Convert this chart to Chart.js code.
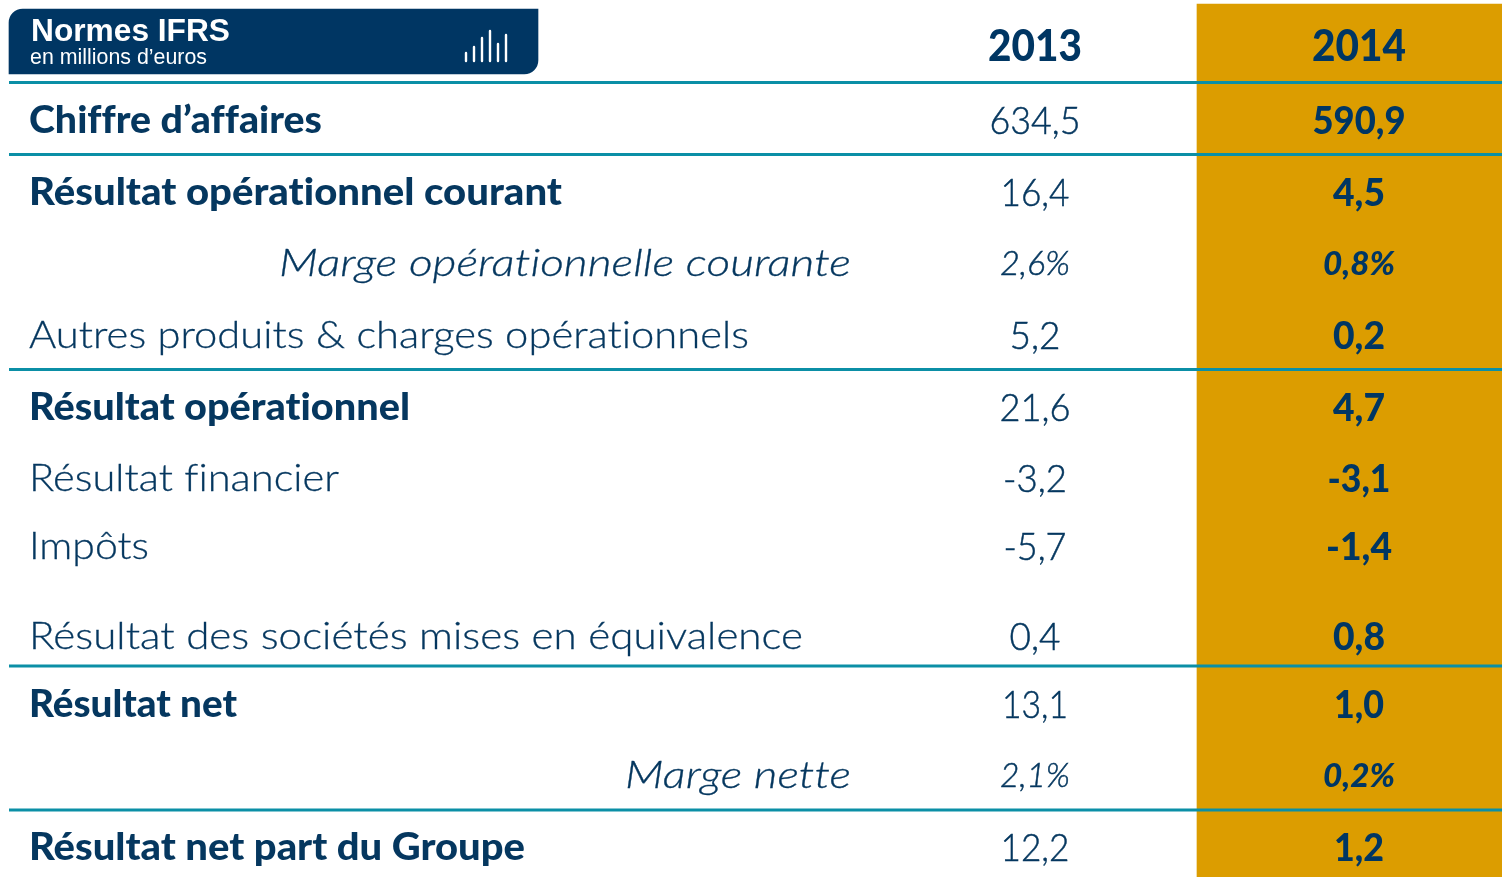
<!DOCTYPE html>
<html lang="fr"><head><meta charset="utf-8">
<script src="https://cdn.jsdelivr.net/npm/chart.js@4/dist/chart.umd.min.js"></script>
<style>html,body{margin:0;padding:0;background:#fff;overflow:hidden}canvas{display:block}</style>
</head><body><canvas id="c" width="1502" height="877"></canvas>
<script>
const headerTitle = "Normes IFRS";
const headerSubtitle = "en millions d\u2019euros";
const columns = ["2013", "2014"];
const rowLabels = ["Chiffre d\u2019affaires","R\u00e9sultat op\u00e9rationnel courant","Marge op\u00e9rationnelle courante","Autres produits & charges op\u00e9rationnels","R\u00e9sultat op\u00e9rationnel","R\u00e9sultat financier","Imp\u00f4ts","R\u00e9sultat des soci\u00e9t\u00e9s mises en \u00e9quivalence","R\u00e9sultat net","Marge nette","R\u00e9sultat net part du Groupe"];
const values2013 = ["634,5","16,4","2,6%","5,2","21,6","-3,2","-5,7","0,4","13,1","2,1%","12,2"];
const values2014 = ["590,9","4,5","0,8%","0,2","4,7","-3,1","-1,4","0,8","1,0","0,2%","1,2"];
const rowKinds = ["bold","bold","italic","plain","bold","plain","plain","plain","bold","italic","bold"];
const iconBars = [10,16,25,32,19,28];

// layout (not data)
const NAVY="#003663", TEXT="#05375f", GOLD="#DC9D00", TEAL="#0b8fa6";
const baselines=[133,205,276,348,420,491,559,649,717,788,860];
const labelW=[293,533,572,720,381,310,120,774,208,226,496];
const w13=[91,69,70,51,71,64,63,51,66,70,69];
const w14=[93,52,72,52,52,63,66,52,50,72,50];
const rules=[82.5,154.5,369.5,666,810];
const FONT="Lato";
function fit(ctx,t,font,w,x,y,align,color,stroke){
  ctx.save();ctx.font=font;ctx.fillStyle=color;ctx.textAlign="left";ctx.textBaseline="alphabetic";
  if("letterSpacing" in ctx)ctx.letterSpacing="0.01px";
  const m=ctx.measureText(t).width,s=w/m;
  const left=align==="left"?x:align==="right"?x-w:x-w/2;
  ctx.translate(left,y);ctx.scale(s,1);ctx.fillText(t,0,0);
  if(stroke){ctx.strokeStyle=color;ctx.lineWidth=stroke;ctx.strokeText(t,0,0);}
  ctx.restore();
}
const tablePlugin={id:"table",
  afterDatasetsDraw(chart){
    const ctx=chart.ctx,X=chart.scales.x,Y=chart.scales.y;
    const px=v=>X.getPixelForValue(v),py=v=>Y.getPixelForValue(v);
    ctx.save();ctx.strokeStyle=TEAL;ctx.lineWidth=2.8;
    rules.forEach(r=>{ctx.beginPath();ctx.moveTo(px(9),py(r));ctx.lineTo(px(1502),py(r));ctx.stroke();});
    ctx.restore();
    fit(ctx,headerTitle,`bold 32px "Liberation Sans"`,199,31,41,"left","#fff");
    fit(ctx,headerSubtitle,`21.5px "Liberation Sans"`,177,30,64,"left","#fff");
    ctx.save();ctx.strokeStyle="#fff";ctx.lineWidth=2.4;ctx.lineCap="round";
    iconBars.forEach((h,i)=>{const x=466+i*8;ctx.beginPath();ctx.moveTo(px(x),py(61));ctx.lineTo(px(x),py(61-h+2));ctx.stroke();});
    ctx.restore();
    fit(ctx,columns[0],`900 44px ${FONT}`,94,1035,61,"center",NAVY);
    fit(ctx,columns[1],`900 44px ${FONT}`,94,1359,61,"center",NAVY);
    rowLabels.forEach((t,i)=>{
      const k=rowKinds[i],y=py(baselines[i]);
      const f=k==="bold"?`900 37px ${FONT}`:k==="italic"?`italic 300 37px ${FONT}`:`300 37px ${FONT}`;
      if(k==="italic")fit(ctx,t,f,labelW[i],px(851),y,"right",TEXT,0.3);
      else fit(ctx,t,f,labelW[i],px(29),y,"left",TEXT,k==="plain"?0.3:0);
      const vf=k==="italic"?`italic 300 33px ${FONT}`:`300 38px ${FONT}`;
      const bf=k==="italic"?`italic 900 33px ${FONT}`:`900 38px ${FONT}`;
      const vy=k==="italic"?y-1.5:y+0.5;
      fit(ctx,values2013[i],vf,w13[i],px(1035),vy,"center",TEXT,0.5);
      fit(ctx,values2014[i],bf,w14[i],px(1359),vy,"center",NAVY);
    });
  }};
document.fonts.load(`300 37px ${FONT}`).finally(()=>Promise.all([document.fonts.load(`900 37px ${FONT}`),document.fonts.load(`italic 300 37px ${FONT}`)])).finally(()=>{
new Chart(document.getElementById("c"),{
  type:"bar",
  data:{datasets:[
    {label:columns[1],data:[{x:1349.5,y:[4,877]}],backgroundColor:GOLD,barThickness:305,grouped:false,borderSkipped:false,order:2},
    {label:headerTitle,data:[{x:273.5,y:[9,74]}],backgroundColor:NAVY,barThickness:529,grouped:false,borderSkipped:false,order:1,
     borderRadius:{topLeft:14,topRight:0,bottomLeft:0,bottomRight:14}}
  ]},
  options:{responsive:false,animation:false,layout:{padding:0},
    plugins:{legend:{display:false},tooltip:{enabled:false},title:{display:false}},
    scales:{x:{type:"linear",min:0,max:1502,display:false,offset:false},
            y:{type:"linear",min:0,max:877,reverse:true,display:false}}},
  plugins:[tablePlugin]
});});
</script></body></html>
